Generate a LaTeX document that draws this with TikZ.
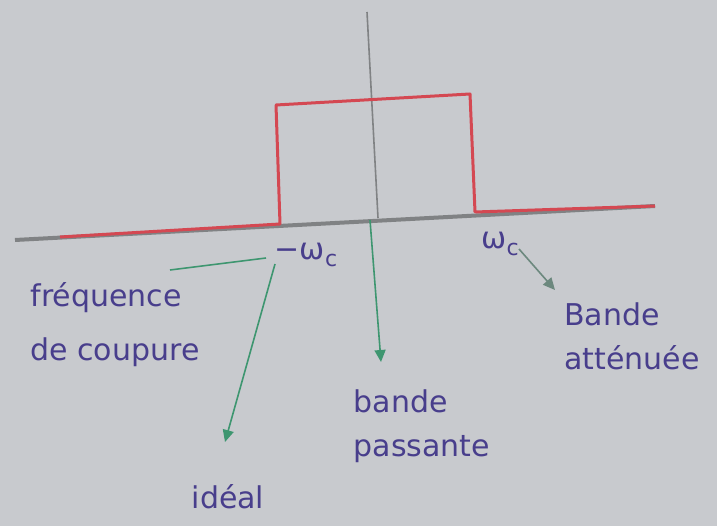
\documentclass[tikz,border=0pt]{standalone}
\usepackage{fontspec}
\setmainfont{DejaVu Sans}
\usetikzlibrary{arrows.meta}
\definecolor{paper}{RGB}{200,202,206}
\definecolor{ink}{RGB}{72,62,140}
\definecolor{redpen}{RGB}{212,72,82}
\definecolor{greenpen}{RGB}{62,150,112}
\definecolor{axisgray}{RGB}{128,130,132}
\newcommand{\wsub}{{\fontsize{22}{22}\selectfont\raisebox{-7pt}{c}}}
\tikzset{
  lbl/.style={text=ink, font=\fontsize{30}{36}\selectfont, inner sep=1pt, align=left},
  conn/.style={draw=greenpen, line width=1.6pt, -{Triangle[length=12pt,width=11pt]}},
  plain/.style={draw=greenpen, line width=1.6pt}
}
\begin{document}
\begin{tikzpicture}[x=1pt,y=-1pt]
\fill[paper] (0,0) rectangle (717,526);
\useasboundingbox (0,0) rectangle (717,526);
% axes
\draw[axisgray, line width=4pt] (15,240) -- (655,206);
\draw[axisgray, line width=1.6pt] (367,12) -- (378,218);
% filter response
\draw[redpen, line width=3pt, line join=round] (60,237) -- (280,224) -- (276,105) -- (470,94) -- (475,212) -- (655,206);
% labels
\node[lbl] (wcn) at (306,255) {−ω\wsub};
\node[lbl] (wcp) at (500,244) {ω\wsub};
\node[lbl] (freq) at (115,325) {fréquence\\[18pt]de coupure};
\node[lbl] (ideal) at (228,497) {idéal};
\node[lbl] (bp) at (422,426) {bande\\[8pt]passante};
\node[lbl] (ba) at (632,336) {Bande\\[8pt]atténuée};
% connector ends
\coordinate (fq) at (170,270);
\coordinate (wcnw) at (266,258);
\coordinate (wcns) at (275,264);
\coordinate (idealtip) at (225,442);
\coordinate (axisfoot) at (370,220);
\coordinate (bptip) at (381,362);
\coordinate (wcpse) at (519,249);
\coordinate (batip) at (555,290);
% connectors
\draw[plain] (fq) -- (wcnw);
\draw[conn] (wcns) -- (idealtip);
\draw[conn] (axisfoot) -- (bptip);
\draw[conn, draw=axisgray!70!greenpen] (wcpse) -- (batip);
\end{tikzpicture}
\end{document}
